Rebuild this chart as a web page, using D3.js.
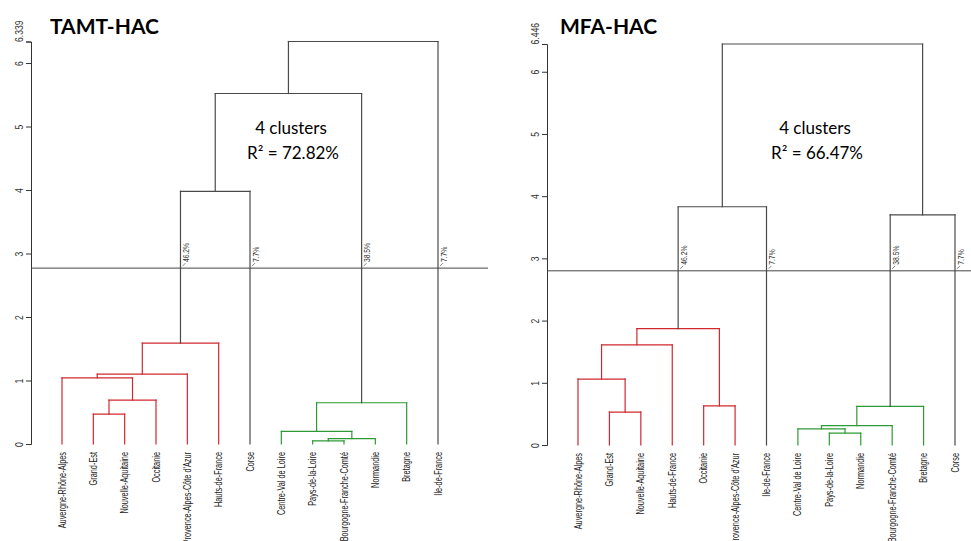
<!DOCTYPE html>
<html><head><meta charset="utf-8">
<script src="https://cdn.jsdelivr.net/npm/d3@7"></script>
<style>body{margin:0;background:#fff}svg{display:block}</style>
</head><body>
<svg id="c" width="971" height="541"></svg>
<script>
// ---- data ----
const leftTitle = "TAMT-HAC";
const leftLeaves = ["Auvergne-Rhône-Alpes","Grand-Est","Nouvelle-Aquitaine","Occitanie","Provence-Alpes-Côte d'Azur","Hauts-de-France","Corse","Centre-Val de Loire","Pays-de-la-Loire","Bourgogne-Franche-Comté","Normandie","Bretagne","Ile-de-France"];
const leftLeafCluster = [0,0,0,0,0,0,1,2,2,2,2,2,3];
// merges in R format: negative = leaf (1-based), positive = earlier merge; third = height
const leftMerges = [[-9,-10,0.05],[1,-11,0.085],[-8,2,0.20],[-2,-3,0.47],[3,-12,0.65],[4,-4,0.69],[-1,6,1.04],[7,-5,1.10],[8,-6,1.59],[9,-7,3.98],[10,5,5.52],[11,-13,6.339]];
const leftCut = 2.77;
const leftPct = ["46.2%","7.7%","38.5%","7.7%"];
const leftR2 = "R² = 72.82%";

const rightTitle = "MFA-HAC";
const rightLeaves = ["Auvergne-Rhône-Alpes","Grand-Est","Nouvelle-Aquitaine","Hauts-de-France","Occitanie","Provence-Alpes-Côte d'Azur","Ile-de-France","Centre-Val de Loire","Pays-de-la-Loire","Normandie","Bourgogne-Franche-Comté","Bretagne","Corse"];
const rightLeafCluster = [0,0,0,0,0,0,1,2,2,2,2,2,3];
const rightMerges = [[-9,-10,0.19],[-8,1,0.26],[2,-11,0.31],[-2,-3,0.53],[3,-12,0.62],[-5,-6,0.63],[-1,4,1.06],[7,-4,1.61],[8,6,1.87],[5,-13,3.70],[9,-7,3.83],[11,10,6.446]];
const rightCut = 2.80;
const rightPct = ["46.2%","7.7%","38.5%","7.7%"];
const rightR2 = "R² = 66.47%";

const yTicks = [0,1,2,3,4,5,6];
const clusterColors = ["#d0282e","#4a4a4a","#2f9a35","#4a4a4a"];

const svg = d3.select("#c");
const NARROW = "'Liberation Sans',Arial,sans-serif";

function panel(o){
  const g = svg.append("g");
  const x = d3.scalePoint().domain(o.leaves).range(o.xr);
  const y = d3.scaleLinear().domain([0,o.top]).range(o.yr);
  // axis
  const ax = d3.axisLeft(y).tickValues(yTicks.concat([o.top])).tickSize(5).tickFormat(d=>d===o.top?String(o.top):d);
  const ag = g.append("g").attr("transform",`translate(${o.axX},0)`).call(ax);
  ag.select(".domain").attr("stroke","#333");
  ag.selectAll(".tick line").attr("stroke","#333");
  ag.selectAll(".tick text").attr("font-family",NARROW)
    .attr("font-size",11).attr("fill","#333")
    .attr("transform","rotate(-90) scale(0.78,1)").attr("x",0).attr("y",-12).attr("dy","0.35em")
    .attr("text-anchor",d=>d===o.top?"start":"middle");
  // nodes
  const nodes = [];
  const get = i => i<0 ? {x:x(o.leaves[-i-1]),h:0,cl:o.cluster[-i-1]} : nodes[i-1];
  o.merges.forEach(m=>{
    const a=get(m[0]), b=get(m[1]);
    nodes.push({x:(a.x+b.x)/2,h:m[2],a,b,cl:a.cl===b.cl?a.cl:-1});
  });
  const gray="#4a4a4a";
  const segs=[];
  nodes.forEach(n=>{
    const below = n.h < o.cut;
    [n.a,n.b].forEach(c=>{
      segs.push({x1:c.x,y1:y(c.h),x2:c.x,y2:y(n.h),col: below?clusterColors[c.cl]:gray});
    });
    segs.push({x1:n.a.x,y1:y(n.h),x2:n.b.x,y2:y(n.h),col: below?clusterColors[n.cl]:gray});
  });
  g.selectAll("line.seg").data(segs).join("line").attr("class","seg")
    .attr("x1",d=>d.x1).attr("y1",d=>d.y1).attr("x2",d=>d.x2).attr("y2",d=>d.y2)
    .attr("stroke",d=>d.col).attr("stroke-width",1.2).attr("stroke-linecap","square");
  // cut line
  const cy = y(o.cut);
  g.append("line").attr("x1",o.axX).attr("x2",o.cutEnd).attr("y1",cy).attr("y2",cy)
    .attr("stroke","#444").attr("stroke-width",1);
  // crossing points
  const cross=[];
  nodes.forEach(n=>{ if(n.h>=o.cut){ [n.a,n.b].forEach(c=>{ if(c.h<o.cut) cross.push(c.x); }); }});
  cross.sort((p,q)=>p-q);
  cross.forEach((cx,i)=>{
    g.append("line").attr("x1",cx+2).attr("y1",cy-2).attr("x2",cx+5).attr("y2",cy-5).attr("stroke","#666").attr("stroke-width",0.8);
    g.append("text").attr("transform",`translate(${cx+8.5},${cy-6}) rotate(-90) scale(0.8,1)`)
      .attr("font-family",NARROW).attr("font-size",8.5).attr("fill","#333")
      .text(o.pct[i]);
  });
  // leaf labels
  g.selectAll("text.leaf").data(o.leaves).join("text").attr("class","leaf")
    .attr("transform",d=>`translate(${x(d)+3.5},${o.yr[0]+8}) rotate(-90) scale(0.7,1)`)
    .attr("text-anchor","end").attr("font-family",NARROW)
    .attr("font-size",10.5).attr("fill","#222").text(d=>d);
  // title
  g.append("text").attr("x",o.titleX).attr("y",34).attr("font-family","Lato,'Open Sans',sans-serif")
    .attr("font-weight","bold").attr("font-size",21).attr("fill","#000").text(o.title);
  g.append("text").attr("x",o.annX).attr("y",134).attr("text-anchor","middle")
    .attr("font-family","Lato,'Open Sans',sans-serif").attr("font-size",17).attr("fill","#000").text("4 clusters");
  g.append("text").attr("x",o.annX+2).attr("y",159).attr("text-anchor","middle")
    .attr("font-family","Lato,'Open Sans',sans-serif").attr("font-size",17).attr("fill","#000").text(o.r2);
}

panel({leaves:leftLeaves,cluster:leftLeafCluster,merges:leftMerges,cut:leftCut,pct:leftPct,r2:leftR2,title:leftTitle,
  top:6.339,xr:[62,438],yr:[444,41.5],axX:31,cutEnd:488,titleX:50,annX:291});
panel({leaves:rightLeaves,cluster:rightLeafCluster,merges:rightMerges,cut:rightCut,pct:rightPct,r2:rightR2,title:rightTitle,
  top:6.446,xr:[578,955],yr:[445,44],axX:547,cutEnd:971,titleX:560,annX:815});
</script>
</body></html>
